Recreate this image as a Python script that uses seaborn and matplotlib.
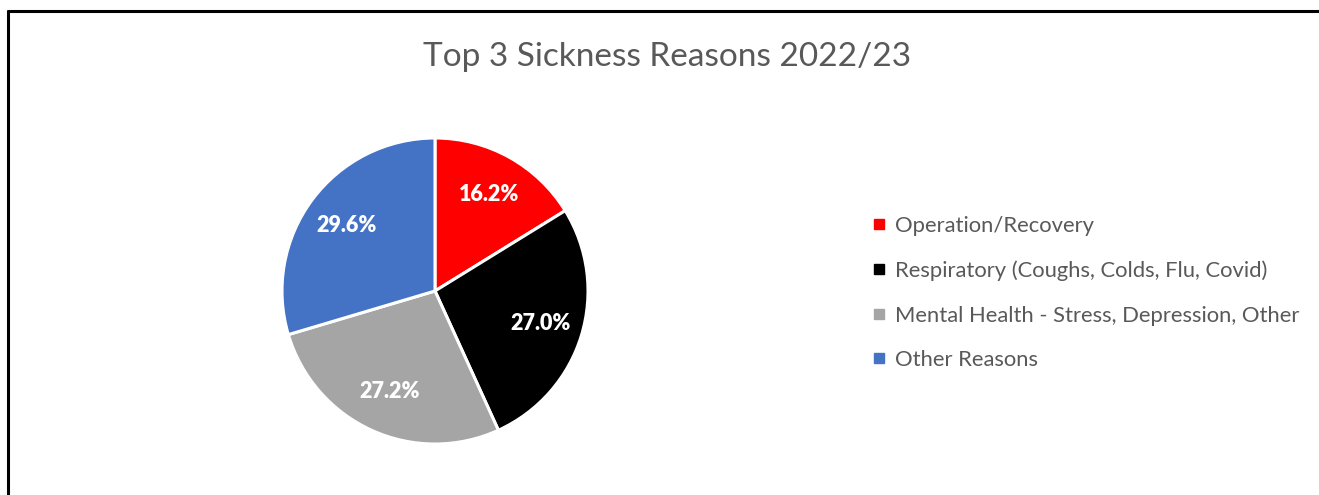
import matplotlib
matplotlib.use("Agg")
import matplotlib.pyplot as plt
from matplotlib.lines import Line2D
import seaborn as sns

categories = [
    "Operation/Recovery",
    "Respiratory (Coughs, Colds, Flu, Covid)",
    "Mental Health - Stress, Depression, Other",
    "Other Reasons",
]
values = [16.2, 27.0, 27.2, 29.6]
colors = ["#FF0000", "#000000", "#A5A5A5", "#4472C4"]
title = "Top 3 Sickness Reasons 2022/23"

sns.set_theme(style="white")
plt.rcParams["font.family"] = ["Lato", "DejaVu Sans"]

W, H = 1319, 495
fig = plt.figure(figsize=(W / 100, H / 100), dpi=100)
fig.patch.set_facecolor("white")

# pie axes: center (435, 291) px, radius 153 px
cx, cy, r = 435, 291, 153
half = 170
ax = fig.add_axes([(cx - half) / W, (H - cy - half) / H, 2 * half / W, 2 * half / H])
lim = half / r
ax.axis("off")

wedges, texts, autotexts = ax.pie(
    values,
    colors=colors,
    startangle=90,
    counterclock=False,
    autopct="%1.1f%%",
    pctdistance=0.72,
    radius=1,
    wedgeprops=dict(edgecolor="white", linewidth=2.2),
    textprops=dict(color="white", fontsize=15.5, fontweight="heavy"),
)
ax.set_xlim(-lim, lim)
ax.set_ylim(-lim, lim)

fig.text(667 / W, 1 - 57 / H, title, ha="center", va="center",
         fontsize=24, color="#595959")

handles = [Line2D([0], [0], marker="s", linestyle="none", markersize=7,
                  markerfacecolor=c, markeredgecolor=c) for c in colors]
leg = fig.legend(handles, categories, loc="center left",
                 bbox_to_anchor=(862 / W, 1 - 293 / H), frameon=False,
                 fontsize=15.8, labelcolor="#595959", handlelength=0.55,
                 handletextpad=0.45, labelspacing=1.12, borderpad=0)

# chart border (top and left visible)
fig.add_artist(Line2D([7.5 / W, 1.01], [1 - 11 / H, 1 - 11 / H],
                      transform=fig.transFigure, color="black", linewidth=2.2))
fig.add_artist(Line2D([7.5 / W, 7.5 / W], [-0.01, 1 - 11 / H],
                      transform=fig.transFigure, color="black", linewidth=2.2))

fig.savefig("out.png", dpi=100, facecolor="white")
